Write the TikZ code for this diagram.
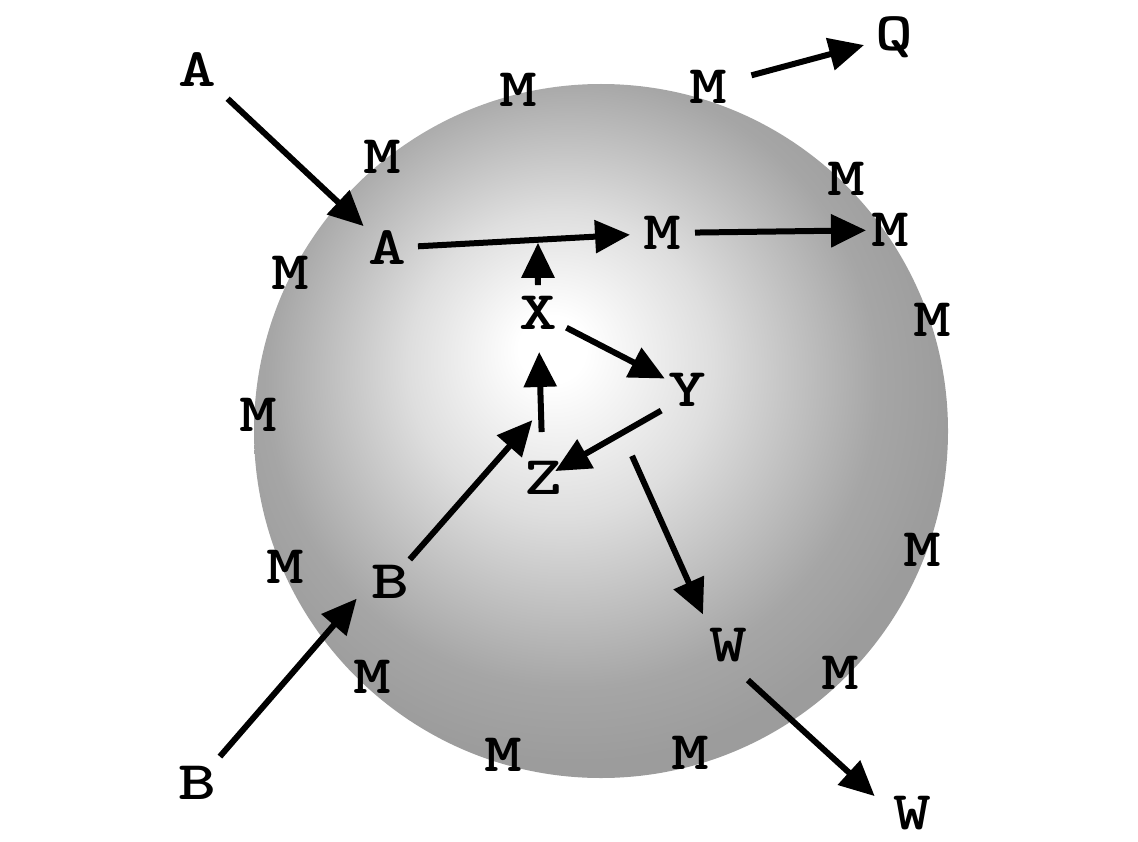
\documentclass[tikz,border=0pt]{standalone}
\usepackage{tikz}
\usetikzlibrary{calc,arrows.meta}
\pgfdeclareradialshading{ballgray}{\pgfpoint{-3.7bp}{6.2bp}}{%
  color(0bp)=(white); color(2.4bp)=(white); color(11bp)=(black!13);
  color(22bp)=(black!35); color(27bp)=(black!39); color(50bp)=(black!39)}
\newcommand{\wide}[1]{\scalebox{1.32}[1]{#1}}

\begin{document}
\begin{tikzpicture}[x=0.02cm,y=-0.02cm,
  lbl/.style={font=\ttfamily\bfseries\fontsize{31}{33}\selectfont,
              inner sep=0pt,outer sep=0pt},
  arr/.style={-{Triangle[length=0.7cm,width=0.64cm]},line width=0.12cm}]
\useasboundingbox (0,0) rectangle (1138,841);

%% Sphere
\shade[shading=ballgray] (601,431) circle[radius=347];

%% Incoming / outgoing labels
\node[lbl] (Aout) at (197,70) {\wide{A}};
\node[lbl] (Bout) at (197,783) {\wide{B}};
\node[lbl] (Q)    at (894,37) {\wide{Q}};
\node[lbl] (Wout) at (912,813) {\wide{W}};

%% Inner labels
\node[lbl] (Ain)  at (387,248) {\wide{A}};
\node[lbl] (Mmid) at (662,233) {\wide{M}};
\node[lbl] (Mr)   at (890,230) {\wide{M}};
\node[lbl] (Mtop) at (708,87) {\wide{M}};
\node[lbl] (X)    at (538,313) {\wide{X}};
\node[lbl] (Y)    at (687,390) {\wide{Y}};
\node[lbl] (Z)    at (543,478) {\wide{Z}};
\node[lbl] (Bin)  at (390,582) {\wide{B}};
\node[lbl] (Win)  at (728,645) {\wide{W}};

%% Membrane M's
\node[lbl] (m1)  at (518,90)  {\wide{M}};
\node[lbl] (m2)  at (382,157) {\wide{M}};
\node[lbl] (m3)  at (846,179) {\wide{M}};
\node[lbl] (m4)  at (290,273) {\wide{M}};
\node[lbl] (m5)  at (932,320) {\wide{M}};
\node[lbl] (m6)  at (258,415) {\wide{M}};
\node[lbl] (m7)  at (285,567) {\wide{M}};
\node[lbl] (m8)  at (922,550) {\wide{M}};
\node[lbl] (m9)  at (372,677) {\wide{M}};
\node[lbl] (m10) at (840,673) {\wide{M}};
\node[lbl] (m11) at (503,755) {\wide{M}};
\node[lbl] (m12) at (690,753) {\wide{M}};

%% Branch points
\coordinate (xa) at ($(Ain)!0.549!(Mmid)$);
\coordinate (bx) at ($(Z)!0.41!(X)$);
\coordinate (yw) at ($(Y.south west)!0.37!(Z.center)$);

%% Arrows
\draw[arr,shorten <=0.84cm,shorten >=0.64cm] (Aout.center)--(Ain.center);
\draw[arr,shorten <=0.62cm,shorten >=0.64cm] (Ain.center)--(Mmid.center);
\draw[arr,shorten <=0.56cm,shorten >=0.06cm] (X.center)--(xa);
\draw[arr,shorten <=0.92cm,shorten >=0.78cm] (Z.center)--(X.center);
\draw[arr,shorten <=0.64cm,shorten >=0.50cm] (X.center)--(Y.center);
\draw[arr,shorten <=0.16cm,shorten >=0.28cm] (Y.south west)--(Z.center);
\draw[arr,shorten <=0.60cm,shorten >=0.26cm] (Bin.center)--(bx);
\draw[arr,shorten <=0.70cm,shorten >=0.44cm] (Bout.center)--(Bin.west);
\draw[arr,shorten <=0.50cm,shorten >=0.30cm] (yw)--(Win.north west);
\draw[arr,shorten <=0.54cm,shorten >=0.50cm] (Win.south)--(Wout.west);
\draw[arr,shorten <=0.66cm,shorten >=0.48cm] (Mmid.center)--(Mr.center);
\draw[arr,shorten <=0.90cm,shorten >=0.62cm] (Mtop.center)--(Q.center);
\end{tikzpicture}
\end{document}
